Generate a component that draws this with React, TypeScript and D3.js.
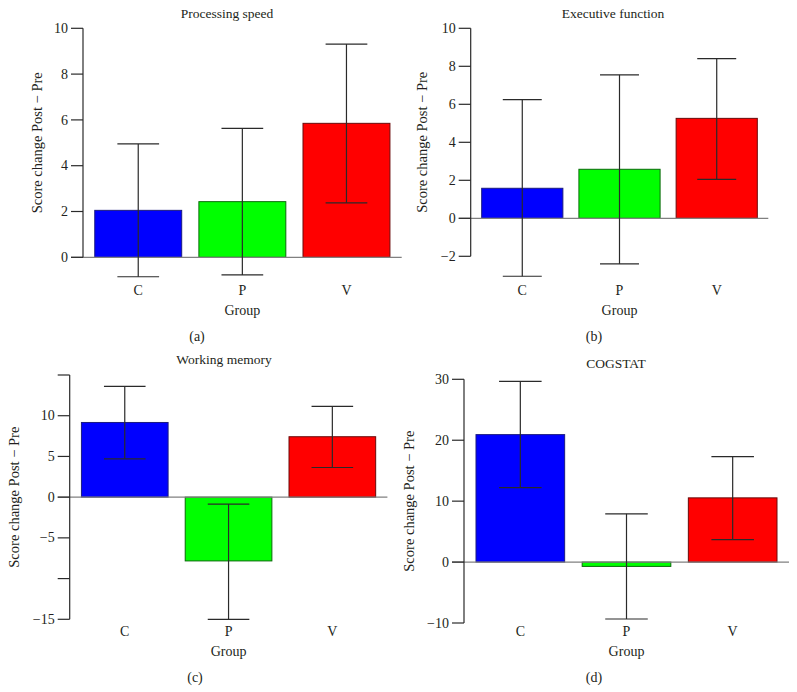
import React from "react";
import * as d3 from "d3";

const categories = ["C", "P", "V"];
const fills = ["#0000ff", "#00ff00", "#ff0000"];
const strokes = ["#1a1a80", "#0a6a0a", "#6a0a0a"];

const titles = ["Processing speed", "Executive function", "Working memory", "COGSTAT"];
const panelLabels = ["(a)", "(b)", "(c)", "(d)"];

const meanA = [2.05, 2.43, 5.85];
const upperA = [4.95, 5.63, 9.31];
const lowerA = [-0.85, -0.77, 2.38];
const ticksA = [0, 2, 4, 6, 8, 10];
const tickLabelsA = ["0", "2", "4", "6", "8", "10"];

const meanB = [1.58, 2.58, 5.26];
const upperB = [6.25, 7.55, 8.4];
const lowerB = [-3.05, -2.4, 2.05];
const ticksB = [-2, 0, 2, 4, 6, 8, 10];
const tickLabelsB = ["\u22122", "0", "2", "4", "6", "8", "10"];

const meanC = [9.17, -7.83, 7.42];
const upperC = [13.6, -0.86, 11.15];
const lowerC = [4.71, -15.0, 3.64];
const ticksC = [-15, -10, -5, 0, 5, 10, 15];
const tickLabelsC = ["\u221215", "", "\u22125", "0", "5", "10", ""];

const meanD = [20.92, -0.71, 10.54];
const upperD = [29.67, 7.92, 17.3];
const lowerD = [12.23, -9.34, 3.7];
const ticksD = [-10, 0, 10, 20, 30];
const tickLabelsD = ["\u221210", "0", "10", "20", "30"];

type PanelProps = {
  title: string;
  label: string;
  mean: number[];
  upper: number[];
  lower: number[];
  ticks: number[];
  tickLabels: string[];
  domain: [number, number];
  yRange: [number, number];
  xRange: [number, number];
  titleX: number;
  titleY: number;
  catY: number;
  groupY: number;
  labelX: number;
  labelY: number;
  yLabelX: number;
};

const FONT = "'Liberation Serif', 'Times New Roman', serif";

function Panel(p: PanelProps) {
  const x = d3
    .scaleBand<string>()
    .domain(categories)
    .range(p.xRange)
    .paddingInner(0.165)
    .paddingOuter(0.113);
  const y = d3.scaleLinear().domain(p.domain).range(p.yRange);
  const ax = p.xRange[0];
  const tickLen = 12;
  const capHalf = x.bandwidth() * 0.24;
  const cx = (p.xRange[0] + p.xRange[1]) / 2;
  const yMid = (p.yRange[0] + p.yRange[1]) / 2;
  return (
    <g fontFamily={FONT} fill="#231f20">
      <text x={p.titleX} y={p.titleY} textAnchor="middle" fontSize={13.5}>
        {p.title}
      </text>
      {categories.map((c, i) => {
        const v = p.mean[i];
        const y0 = y(Math.max(0, v));
        const h = Math.abs(y(v) - y(0));
        return (
          <rect
            key={c}
            x={x(c)}
            y={y0}
            width={x.bandwidth()}
            height={h}
            fill={fills[i]}
            stroke={strokes[i]}
            strokeWidth={1}
          />
        );
      })}
      <line
        x1={ax - tickLen}
        x2={p.xRange[1]}
        y1={y(0)}
        y2={y(0)}
        stroke="#808080"
        strokeWidth={1.2}
      />
      {categories.map((c, i) => {
        const bx = (x(c) as number) + x.bandwidth() / 2;
        return (
          <g key={c} stroke="#2a2a2a" strokeWidth={1.2}>
            <line x1={bx} x2={bx} y1={y(p.upper[i])} y2={y(p.lower[i])} />
            <line x1={bx - capHalf} x2={bx + capHalf} y1={y(p.upper[i])} y2={y(p.upper[i])} />
            <line x1={bx - capHalf} x2={bx + capHalf} y1={y(p.lower[i])} y2={y(p.lower[i])} />
          </g>
        );
      })}
      <line x1={ax} x2={ax} y1={y(p.domain[1])} y2={y(p.domain[0])} stroke="#2a2a2a" strokeWidth={1.2} />
      {p.ticks.map((t, i) => (
        <g key={t}>
          <line x1={ax - tickLen} x2={ax} y1={y(t)} y2={y(t)} stroke="#2a2a2a" strokeWidth={1.2} />
          <text x={ax - tickLen - 3} y={y(t)} dy="0.33em" textAnchor="end" fontSize={14}>
            {p.tickLabels[i]}
          </text>
        </g>
      ))}
      <text
        transform={`translate(${p.yLabelX},${yMid}) rotate(-90)`}
        textAnchor="middle"
        fontSize={14.5}
      >
        Score change Post {"\u2212"} Pre
      </text>
      {categories.map((c) => (
        <text key={c} x={(x(c) as number) + x.bandwidth() / 2} y={p.catY} textAnchor="middle" fontSize={14}>
          {c}
        </text>
      ))}
      <text x={cx} y={p.groupY} textAnchor="middle" fontSize={14}>
        Group
      </text>
      <text x={p.labelX} y={p.labelY} textAnchor="middle" fontSize={14}>
        {p.label}
      </text>
    </g>
  );
}

export default function App() {
  return (
    <svg width={797} height={692} style={{ position: "absolute", left: 0, top: 0, background: "#fff" }}>
      <rect width={797} height={692} fill="#fff" />
      <Panel
        title={titles[0]}
        label={panelLabels[0]}
        mean={meanA}
        upper={upperA}
        lower={lowerA}
        ticks={ticksA}
        tickLabels={tickLabelsA}
        domain={[0, 10]}
        yRange={[257.3, 28.3]}
        xRange={[83, 401.7]}
        titleX={227}
        titleY={18}
        catY={295}
        groupY={315}
        labelX={197}
        labelY={341}
        yLabelX={42}
      />
      <Panel
        title={titles[1]}
        label={panelLabels[1]}
        mean={meanB}
        upper={upperB}
        lower={lowerB}
        ticks={ticksB}
        tickLabels={tickLabelsB}
        domain={[-2, 10]}
        yRange={[256.3, 28.3]}
        xRange={[470.7, 768.3]}
        titleX={613}
        titleY={18}
        catY={295}
        groupY={315}
        labelX={594}
        labelY={341}
        yLabelX={427}
      />
      <Panel
        title={titles[2]}
        label={panelLabels[2]}
        mean={meanC}
        upper={upperC}
        lower={lowerC}
        ticks={ticksC}
        tickLabels={tickLabelsC}
        domain={[-15, 15]}
        yRange={[619.3, 375]}
        xRange={[69.7, 387.4]}
        titleX={224}
        titleY={364}
        catY={636}
        groupY={656}
        labelX={195}
        labelY={682}
        yLabelX={19}
      />
      <Panel
        title={titles[3]}
        label={panelLabels[3]}
        mean={meanD}
        upper={upperD}
        lower={lowerD}
        ticks={ticksD}
        tickLabels={tickLabelsD}
        domain={[-10, 30]}
        yRange={[623, 379.3]}
        xRange={[464, 789]}
        titleX={616}
        titleY={368}
        catY={636}
        groupY={656}
        labelX={594}
        labelY={682}
        yLabelX={414}
      />
    </svg>
  );
}
